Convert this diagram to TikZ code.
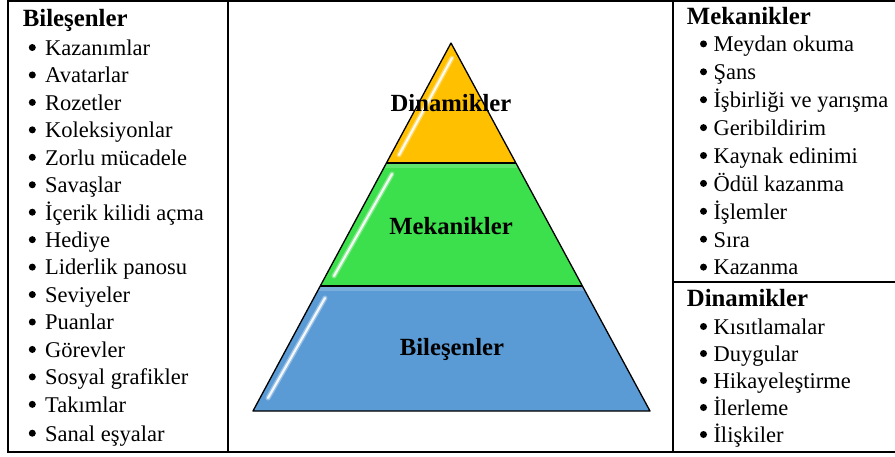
\documentclass[tikz,border=0pt]{standalone}
\usepackage{fontspec}
\usetikzlibrary{calc}
\setmainfont{Liberation Serif}
\definecolor{tyellow}{HTML}{FFC000}
\definecolor{tgreen}{HTML}{3CDF4C}
\definecolor{tblue}{HTML}{5B9BD5}
\begin{document}
\begin{tikzpicture}[x=1pt,y=-1pt,
  hdr/.style={anchor=base west,inner sep=0pt,font=\fontsize{24.8}{28}\selectfont\bfseries},
  itm/.style={anchor=base west,inner sep=0pt,font=\fontsize{22.5}{26}\selectfont},
  bul/.style={circle,fill=black,inner sep=0pt,minimum size=7pt},
  lbl/.style={anchor=base,inner sep=0pt,font=\fontsize{24.7}{28}\selectfont\bfseries},
  tier/.style={draw=black,line width=1.3pt,line join=round},
  glossa/.style={draw=white,line width=5pt,line cap=round,opacity=0.35},
  glossb/.style={draw=white,line width=2.2pt,line cap=round,opacity=0.9},
  rule/.style={line width=2pt}]
\useasboundingbox (0,0) rectangle (895,456);
% table frame
\draw[rule] (8,1) -- (897,1);
\draw[rule] (8,452) -- (897,452);
\draw[rule] (8,0) -- (8,453);
\draw[rule] (228,0) -- (228,453);
\draw[rule] (673,0) -- (673,453);
\draw[rule] (673,282) -- (897,282);
% pyramid
\coordinate (apex) at (451,43);
\coordinate (bl) at (253,411);
\coordinate (br) at (650,411);
\coordinate (m1l) at ($(apex)!0.3261!(bl)$);
\coordinate (m1r) at ($(apex)!0.3261!(br)$);
\coordinate (m2l) at ($(apex)!0.6603!(bl)$);
\coordinate (m2r) at ($(apex)!0.6603!(br)$);
\fill[tblue] (m2l) -- (m2r) -- (br) -- (bl) -- cycle;
\fill[tgreen] (m1l) -- (m1r) -- (m2r) -- (m2l) -- cycle;
\fill[tyellow] (apex) -- (m1r) -- (m1l) -- cycle;
\fill[white,opacity=0.18] (m2l) -- (m2r) -- ($(m2r)!0.04!(br)$) -- ($(m2l)!0.04!(bl)$) -- cycle;
\fill[white,opacity=0.18] (m1l) -- (m1r) -- ($(m1r)!0.04!(m2r)$) -- ($(m1l)!0.04!(m2l)$) -- cycle;
% gloss
\draw[glossa] (452,58) -- (399,155);
\draw[glossb] (452,58) -- (399,155);
\draw[glossa] (392,174) -- (334,276);
\draw[glossb] (392,174) -- (334,276);
\draw[glossa] (325,298) -- (268,398);
\draw[glossb] (325,298) -- (268,398);
\draw[tier] (apex) -- (br) -- (bl) -- cycle;
\draw[tier] (m1l) -- (m1r);
\draw[tier] (m2l) -- (m2r);
\node[lbl] (pd) at (451,111.7) {Dinamikler};
\node[lbl] (pm) at (451,234) {Mekanikler};
\node[lbl] (pb) at (452,355.5) {Bileşenler};
% left column
\node[hdr] (lh) at (22.7,26.7) {Bileşenler};
\foreach \t [count=\i from 0] in {Kazanımlar,Avatarlar,Rozetler,Koleksiyonlar,Zorlu mücadele,Savaşlar,İçerik kilidi açma,Hediye,Liderlik panosu,Seviyeler,Puanlar,Görevler,Sosyal grafikler,Takımlar}{
  \node[bul] (lb\i) at (32.3,55.3+27.45*\i-7.8) {};
  \node[itm] (li\i) at (45,55.3+27.45*\i) {\t};
}
\node[bul] (lb14) at (32.3,441-7.8) {};
\node[itm] (li14) at (45,441) {Sanal eşyalar};
% right column top
\node[hdr] (rh1) at (686.7,24) {Mekanikler};
\foreach \t [count=\i from 0] in {Meydan okuma,Şans,İşbirliği ve yarışma,Geribildirim,Kaynak edinimi,Ödül kazanma,İşlemler,Sıra,Kazanma}{
  \node[bul] (rb\i) at (703.5,51.7+27.9*\i-7.8) {};
  \node[itm] (ri\i) at (713.3,51.7+27.9*\i) {\t};
}
% right column bottom
\node[hdr] (rh2) at (686.7,306.7) {Dinamikler};
\foreach \t [count=\i from 0] in {Kısıtlamalar,Duygular,Hikayeleştirme,İlerleme,İlişkiler}{
  \node[bul] (db\i) at (703.5,334.3+27*\i-7.8) {};
  \node[itm] (di\i) at (713.3,334.3+27*\i) {\t};
}
\end{tikzpicture}
\end{document}
